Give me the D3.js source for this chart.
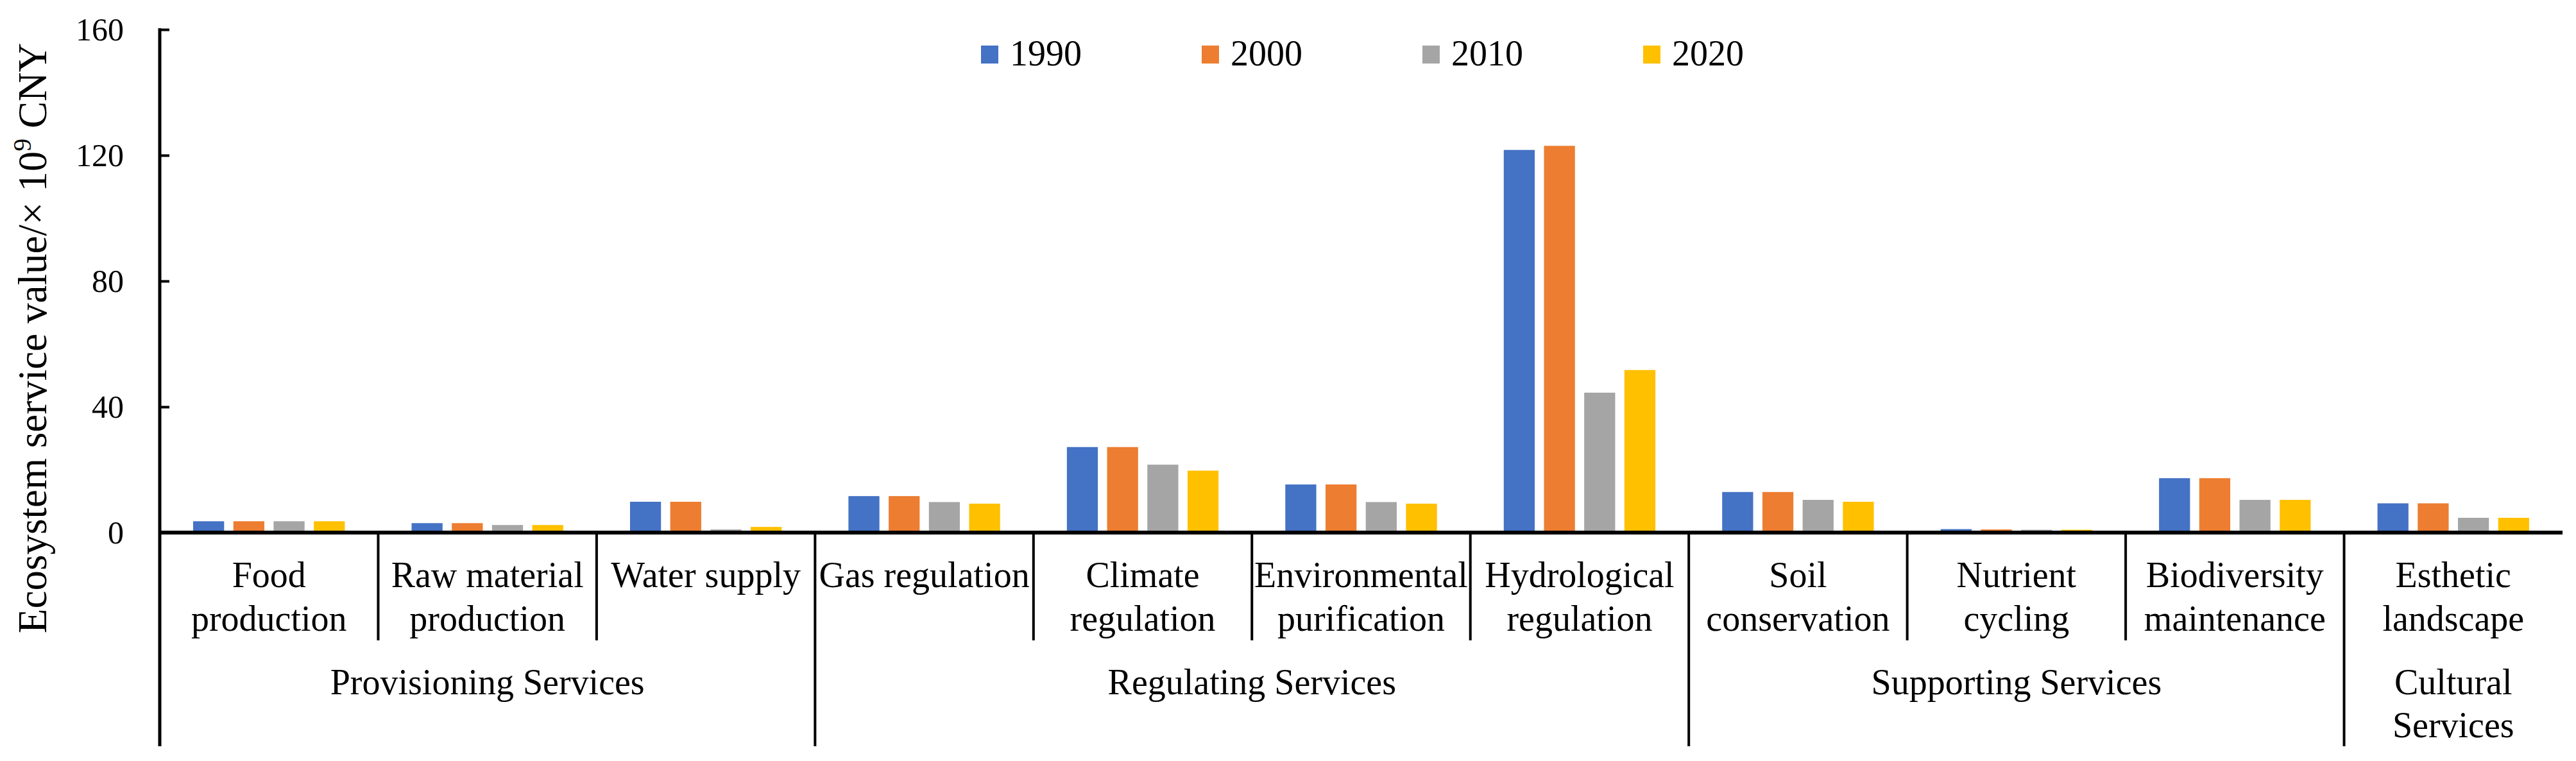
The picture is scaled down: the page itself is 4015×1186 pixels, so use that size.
<!DOCTYPE html>
<html>
<head>
<meta charset="utf-8">
<script src="https://cdn.jsdelivr.net/npm/d3@7"></script>
<style>
  body { margin: 0; background: #fff; }
  svg { display: block; font-family: "Liberation Serif", "Times New Roman", serif; }
</style>
</head>
<body>
<svg id="chart" width="4015" height="1186"></svg>
<script>
// --- data ---
const categories = [
  "Food\nproduction", "Raw material\nproduction", "Water supply",
  "Gas regulation", "Climate\nregulation", "Environmental\npurification", "Hydrological\nregulation",
  "Soil\nconservation", "Nutrient\ncycling", "Biodiversity\nmaintenance",
  "Esthetic\nlandscape"
];
const groupNames = ["Provisioning Services", "Regulating Services", "Supporting Services", "Cultural\nServices"];
const groupSizes = [3, 4, 3, 1];
const years = ["1990", "2000", "2010", "2020"];
const v1990 = [3.6, 3.0, 9.8, 11.6, 27.2, 15.3, 121.7, 12.9, 1.1, 17.3, 9.3];
const v2000 = [3.6, 3.0, 9.8, 11.6, 27.2, 15.3, 123.0, 12.9, 1.0, 17.3, 9.3];
const v2010 = [3.6, 2.4, 1.0, 9.7, 21.6, 9.7, 44.5, 10.4, 0.9, 10.4, 4.7];
const v2020 = [3.6, 2.4, 1.8, 9.2, 19.7, 9.2, 51.7, 9.8, 0.9, 10.4, 4.7];
const yTicks = [0, 40, 80, 120, 160];
const colors = ["#4472C4", "#ED7D31", "#A5A5A5", "#FFC000"];

const series = [v1990, v2000, v2010, v2020];

// --- layout ---
const left = 249, right = 3994, yTop = 46, yZero = 830;
const shortTick = 998, longTick = 1163;

const svg = d3.select("#chart");
svg.append("rect").attr("width", 4015).attr("height", 1186).attr("fill", "#fff");

const x0 = d3.scaleBand().domain(d3.range(categories.length)).range([left, right]).padding(0);
const x1 = d3.scaleBand().domain(years).range([0, x0.bandwidth()]).paddingInner(0.23).paddingOuter(0.83);
const y = d3.scaleLinear().domain([0, 160]).range([yZero, yTop]);

// bars
const cat = svg.append("g").selectAll("g")
  .data(categories)
  .join("g")
  .attr("transform", (d, i) => `translate(${x0(i)},0)`);

cat.selectAll("rect")
  .data((d, i) => years.map((yr, k) => ({ yr, k, v: series[k][i] })))
  .join("rect")
  .attr("x", d => x1(d.yr))
  .attr("width", x1.bandwidth())
  .attr("y", d => y(d.v))
  .attr("height", d => yZero - y(d.v))
  .attr("fill", d => colors[d.k]);

// y axis (ticks point inward)
const yAxis = svg.append("g")
  .attr("transform", `translate(${left},0)`)
  .call(d3.axisLeft(y).tickValues(yTicks).tickSize(-15).tickSizeOuter(0).tickPadding(56));
yAxis.select(".domain").remove();
yAxis.selectAll(".tick line").attr("stroke", "#000").attr("stroke-width", 4);
yAxis.selectAll(".tick text").attr("font-size", 50).attr("fill", "#000")
  .attr("font-family", "Liberation Serif, Times New Roman, serif");

svg.append("line")
  .attr("x1", left).attr("x2", left).attr("y1", yTop - 2).attr("y2", longTick)
  .attr("stroke", "#000").attr("stroke-width", 5);

// x axis line
svg.append("line")
  .attr("x1", left).attr("x2", right).attr("y1", yZero).attr("y2", yZero)
  .attr("stroke", "#000").attr("stroke-width", 6);

// separators between categories
const groupEnds = d3.cumsum(groupSizes);
d3.range(1, categories.length).forEach(i => {
  const isGroup = groupEnds.includes(i);
  svg.append("line")
    .attr("x1", x0(i)).attr("x2", x0(i))
    .attr("y1", yZero).attr("y2", isGroup ? longTick : shortTick)
    .attr("stroke", "#000").attr("stroke-width", 4);
});

// category labels
svg.append("g").selectAll("text")
  .data(categories)
  .join("text")
  .attr("text-anchor", "middle")
  .attr("font-size", 56)
  .each(function (d, i) {
    const cx = x0(i) + x0.bandwidth() / 2;
    d3.select(this).selectAll("tspan")
      .data(d.split("\n"))
      .join("tspan")
      .attr("x", cx)
      .attr("y", (t, j) => 915 + j * 68)
      .text(t => t);
  });

// group labels
let start = 0;
groupNames.forEach((g, gi) => {
  const end = start + groupSizes[gi];
  const cx = (x0(start) + x0(end - 1) + x0.bandwidth()) / 2;
  svg.append("text")
    .attr("text-anchor", "middle")
    .attr("font-size", 56)
    .selectAll("tspan")
    .data(g.split("\n"))
    .join("tspan")
    .attr("x", cx)
    .attr("y", (t, j) => 1082 + j * 67)
    .text(t => t);
  start = end;
});

// legend
const legend = svg.append("g").selectAll("g")
  .data(years)
  .join("g")
  .attr("transform", (d, i) => `translate(${1529 + i * 344},0)`);
legend.append("rect")
  .attr("x", 0).attr("y", 71).attr("width", 27).attr("height", 28)
  .attr("fill", (d, i) => colors[i]);
legend.append("text")
  .attr("x", 45).attr("y", 102)
  .attr("font-size", 56)
  .text(d => d);

// y title
const title = svg.append("text")
  .attr("transform", "translate(72,527) rotate(-90)")
  .attr("text-anchor", "middle")
  .attr("font-size", 63);
title.append("tspan").text("Ecosystem service value/× 10");
title.append("tspan").attr("font-size", 40).attr("dy", -24).text("9");
title.append("tspan").attr("dy", 24).text(" CNY");
</script>
</body>
</html>
